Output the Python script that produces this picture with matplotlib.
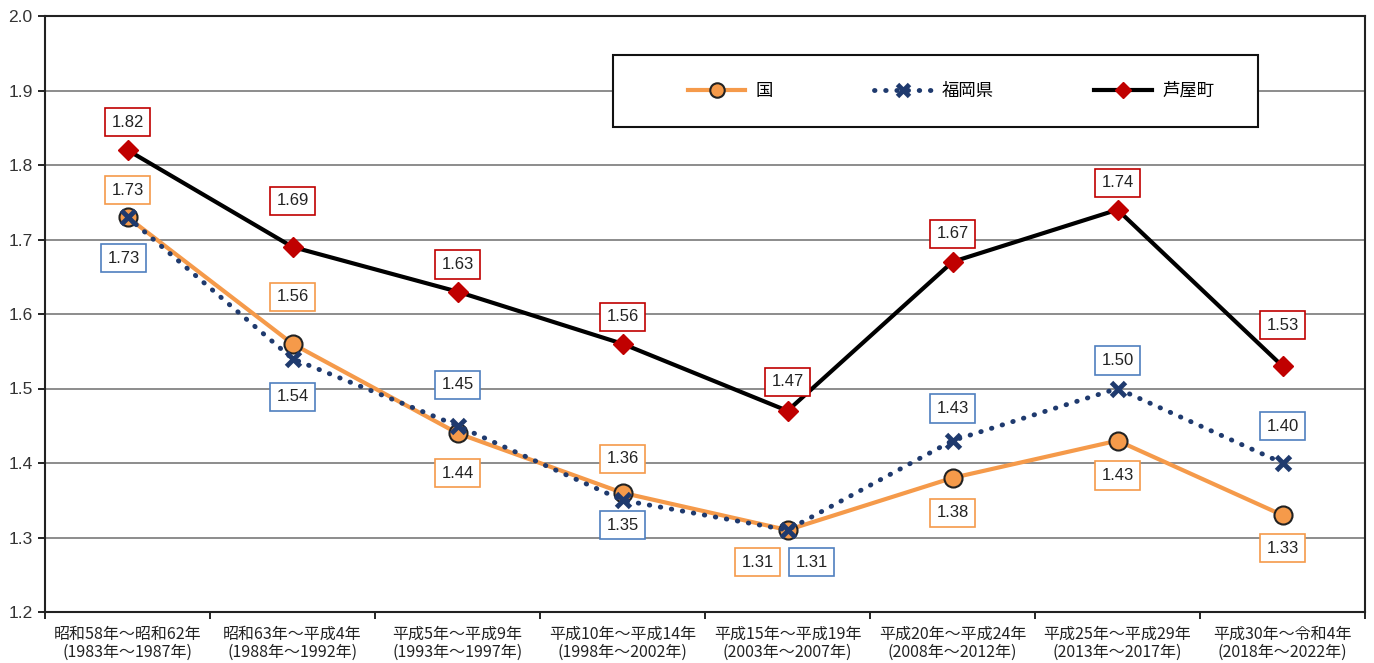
import matplotlib
matplotlib.use('Agg')
import matplotlib.pyplot as plt
from matplotlib.patches import Rectangle
import numpy as np

plt.rcParams['font.family'] = ['Noto Sans CJK JP', 'DejaVu Sans']

# data
periods = ['昭和58年～昭和62年\n(1983年～1987年)', '昭和63年～平成4年\n(1988年～1992年)',
           '平成5年～平成9年\n(1993年～1997年)', '平成10年～平成14年\n(1998年～2002年)',
           '平成15年～平成19年\n(2003年～2007年)', '平成20年～平成24年\n(2008年～2012年)',
           '平成25年～平成29年\n(2013年～2017年)', '平成30年～令和4年\n(2018年～2022年)']
kuni = [1.73, 1.56, 1.44, 1.36, 1.31, 1.38, 1.43, 1.33]
fukuoka = [1.73, 1.54, 1.45, 1.35, 1.31, 1.43, 1.50, 1.40]
ashiya = [1.82, 1.69, 1.63, 1.56, 1.47, 1.67, 1.74, 1.53]

# label offsets in pixels (dx, dy)
off_kuni = [(0, 27), (0, 47), (0, -40), (0, 34), (-30, -32), (0, -35), (0, -35), (0, -33)]
off_fukuoka = [(-4, -41), (0, -38), (0, 41), (0, -25), (24, -32), (0, 32), (0, 28), (0, 37)]
off_ashiya = [(0, 28), (0, 46), (0, 27), (0, 27), (0, 29), (0, 28), (0, 27), (0, 41)]

c_kuni = '#F59A4A'
c_fuk = '#1F3A6E'
c_ash = '#000000'
c_red = '#C00000'
num_font = ['Liberation Sans', 'DejaVu Sans']

fig = plt.figure(figsize=(13.74, 6.63), dpi=100)
ax = fig.add_axes([45/1374, 1-612/663, 1320/1374, 596/663])
x = np.arange(len(periods))

ax.plot(x, kuni, color=c_kuni, lw=3, marker='o', ms=13, mfc=c_kuni,
        mec='#222222', mew=1.5, label='国', zorder=3)
ax.plot(x, fukuoka, color=c_fuk, lw=3.5, ls=(0, (0.1, 2.2)), dash_capstyle='round',
        marker='x', ms=10, mew=3.5, mec=c_fuk, label='福岡県', zorder=4)
ax.plot(x, ashiya, color=c_ash, lw=3, marker='D', ms=10, mfc=c_red, mec=c_red,
        label='芦屋町', zorder=5)

def add_labels(vals, offs, edge):
    for xi, v, (dx, dy) in zip(x, vals, offs):
        ax.annotate(f'{v:.2f}', (xi, v), xytext=(dx, dy), textcoords='offset pixels',
                    ha='center', va='center', fontsize=12, color='#222222', zorder=6,
                    family=num_font,
                    bbox=dict(boxstyle='square,pad=0.4', fc='white', ec=edge, lw=1.2))

add_labels(kuni, off_kuni, c_kuni)
add_labels(fukuoka, off_fukuoka, '#4F7FBF')
add_labels(ashiya, off_ashiya, c_red)

ax.set_xlim(-0.5, len(periods) - 0.5)
ax.set_ylim(1.2, 2.0)
yt = np.arange(1.2, 2.01, 0.1)
ax.set_yticks(yt)
ax.set_yticklabels([f'{v:.1f}' for v in yt], fontsize=12.5, color='#333333', family=num_font)
ax.set_xticks(x)
ax.set_xticklabels(periods, fontsize=11.5, color='#222222', linespacing=1.1)
ax.set_xticks(np.arange(-0.5, len(periods), 1), minor=True)
ax.tick_params(axis='x', which='major', length=0, pad=10)
ax.tick_params(axis='x', which='minor', length=5, width=1.2, direction='out')
ax.tick_params(axis='y', length=5, width=1.2, direction='out', pad=4)
ax.yaxis.grid(True, color='#8c8c8c', lw=1.4)
ax.set_axisbelow(True)
for s in ax.spines.values():
    s.set_linewidth(1.5)
    s.set_color('#222222')

# legend frame
ax.add_patch(Rectangle((0.430, 0.814), 0.489, 0.121, transform=ax.transAxes,
                       fc='white', ec='#111111', lw=1.5, zorder=2))
leg = ax.legend(loc='center', bbox_to_anchor=(0.430 + 0.489/2 + 0.012, 0.814 + 0.121/2),
                ncol=3, frameon=False, fontsize=12.5, handlelength=3.3,
                columnspacing=5.8, handletextpad=0.6, markerscale=0.8)

fig.savefig('out.png', dpi=100)
